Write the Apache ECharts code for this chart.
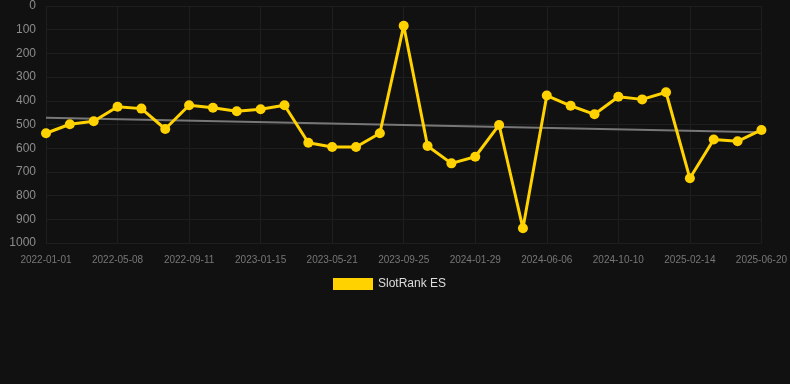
<!DOCTYPE html>
<html>
<head>
<meta charset="utf-8">
<script src="https://cdn.jsdelivr.net/npm/echarts@6/dist/echarts.min.js"></script>
<style>
  html, body { margin: 0; padding: 0; background: #111111; }
  #chart { width: 790px; height: 384px; }
</style>
</head>
<body>
<div id="chart"></div>
<script>
// dates on the x axis (every 3rd one is labelled)
const dates = [
  '2022-01-01', '2022-02-12', '2022-03-26', '2022-05-08', '2022-06-19', '2022-07-31',
  '2022-09-11', '2022-10-23', '2022-12-04', '2023-01-15', '2023-02-26', '2023-04-09',
  '2023-05-21', '2023-07-02', '2023-08-13', '2023-09-25', '2023-11-06', '2023-12-18',
  '2024-01-29', '2024-03-11', '2024-04-23', '2024-06-06', '2024-07-18', '2024-08-29',
  '2024-10-10', '2024-11-21', '2025-01-02', '2025-02-14', '2025-03-28', '2025-05-09',
  '2025-06-20'
];
// rank values
const rankES = [
  537, 499, 486, 425, 433, 519, 419, 429, 444, 436, 419, 577, 595, 595, 537, 83,
  591, 664, 636, 502, 938, 378, 421, 457, 383, 394, 364, 727, 563, 571, 523
];
// trend line: start and end only
const trendStart = 471;
const trendEnd = 533;

const trend = dates.map(function (d, i) {
  if (i === 0) return trendStart;
  if (i === dates.length - 1) return trendEnd;
  return null;
});

const chart = echarts.init(document.getElementById('chart'));
chart.setOption({
  backgroundColor: '#111111',
  animation: false,
  grid: { left: 46, right: 28, top: 6, bottom: 141 },
  legend: {
    top: 273,
    left: 328,
    itemWidth: 40,
    itemHeight: 12,
    itemGap: 6,
    icon: 'rect',
    data: ['SlotRank ES'],
    textStyle: { color: '#dddddd', fontSize: 12, fontFamily: 'Arial, Liberation Sans, sans-serif' }
  },
  xAxis: {
    type: 'category',
    boundaryGap: false,
    data: dates,
    axisTick: { show: false },
    axisLine: { show: false },
    axisLabel: {
      interval: 2,
      color: '#777777',
      fontSize: 10,
      margin: 12,
      fontFamily: 'Arial, Liberation Sans, sans-serif'
    },
    splitLine: {
      show: true,
      interval: 2,
      lineStyle: { color: '#1e1e1e', width: 1 }
    }
  },
  yAxis: {
    type: 'value',
    inverse: true,
    min: 0,
    max: 1000,
    interval: 100,
    axisLine: { show: false },
    axisTick: { show: false },
    axisLabel: {
      color: '#8c8c8c',
      fontSize: 12,
      margin: 10,
      formatter: function (v) { return String(v); },
      fontFamily: 'Arial, Liberation Sans, sans-serif'
    },
    splitLine: { lineStyle: { color: '#1e1e1e', width: 1 } }
  },
  series: [
    {
      name: 'trend',
      type: 'line',
      data: trend,
      connectNulls: true,
      symbol: 'none',
      silent: true,
      lineStyle: { color: '#777777', width: 2 },
      z: 1
    },
    {
      name: 'SlotRank ES',
      type: 'line',
      data: rankES,
      symbol: 'circle',
      symbolSize: 10,
      itemStyle: { color: '#FFD200' },
      lineStyle: { color: '#FFD200', width: 3 },
      z: 2
    }
  ]
});
</script>
</body>
</html>
